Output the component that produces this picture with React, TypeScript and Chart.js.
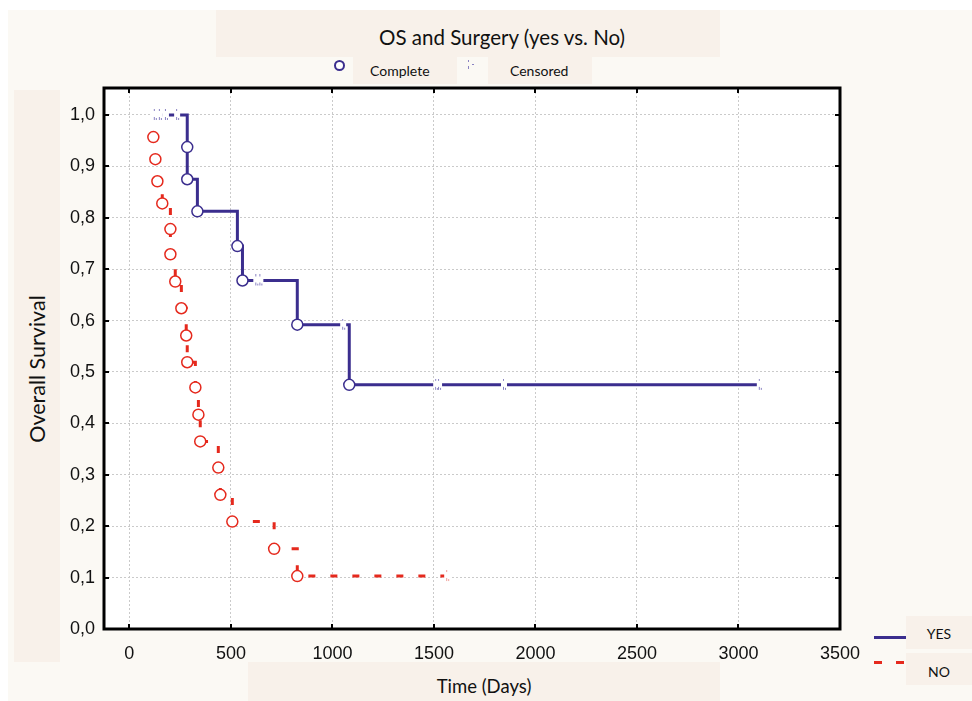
import React, { useEffect, useRef } from 'react';
import { Chart, registerables } from 'chart.js';

Chart.register(...registerables);

// ---- text ----
const chartTitle = 'OS and Surgery (yes vs. No)';
const xAxisTitle = 'Time (Days)';
const yAxisTitle = 'Overall Survival';
const groupLabels = ['YES', 'NO'];
const markerLabels = ['Complete', 'Censored'];

// ---- ticks ----
const xTickValues = [0, 500, 1000, 1500, 2000, 2500, 3000, 3500];
const yTickValues = [0, 0.1, 0.2, 0.3, 0.4, 0.5, 0.6, 0.7, 0.8, 0.9, 1.0];

// ---- YES group (surgery) ----
const yesEventDays = [285, 285, 335, 532, 557, 827, 1083];
const yesEventSurv = [0.9375, 0.875, 0.8125, 0.745, 0.678, 0.592, 0.475];
const yesCensDays = [125, 150, 180, 235, 625, 645, 1053, 1511, 1525, 1845, 3105];
const yesCensSurv = [1, 1, 1, 1, 0.678, 0.678, 0.592, 0.475, 0.475, 0.475, 0.475];

// ---- NO group ----
const noEventDays = [118, 128, 138, 162, 202, 202, 226, 256, 280, 285, 325, 340, 349, 438, 448, 507, 713, 827];
const noEventSurv = [0.957, 0.914, 0.871, 0.828, 0.778, 0.729, 0.676, 0.624, 0.571, 0.519, 0.47, 0.417, 0.365, 0.314, 0.261, 0.209, 0.156, 0.103];
const noCensDays = [1565];
const noCensSurv = [0.103];

const BLUE = '#3b2e8e';
const RED = '#e5291d';
const BOX = '#f8f1ea';
const PAGE = '#fbf9f4';
const FONT = 'Lato, "Open Sans", sans-serif';

function buildSteps(eDays: number[], eSurv: number[], cDays: number[], cSurv: number[]) {
  const pts = [
    ...eDays.map((d, i) => ({ x: d, y: eSurv[i] })),
    ...cDays.map((d, i) => ({ x: d, y: cSurv[i] })),
  ];
  pts.sort((a, b) => a.x - b.x || b.y - a.y);
  return pts;
}

function toPts(days: number[], surv: number[]) {
  return days.map((d, i) => ({ x: d, y: surv[i] }));
}

function makeCensorMark(color: string) {
  const c = document.createElement('canvas');
  c.width = 8;
  c.height = 12;
  const g = c.getContext('2d')!;
  g.fillStyle = '#ffffff';
  g.fillRect(1, 3, 6, 6);
  g.fillStyle = color;
  g.fillRect(3, 0, 1, 2);
  g.fillRect(3, 8, 1, 3);
  g.fillRect(5, 9, 1, 2);
  return c;
}

const framePlugin = {
  id: 'frame',
  beforeDraw(chart: any) {
    const { ctx, chartArea: a } = chart;
    ctx.save();
    ctx.fillStyle = '#ffffff';
    ctx.fillRect(a.left, a.top, a.right - a.left, a.bottom - a.top);
    ctx.restore();
  },
  afterDraw(chart: any) {
    const { ctx, chartArea: a, scales } = chart;
    ctx.save();
    ctx.strokeStyle = '#000';
    ctx.lineWidth = 3;
    ctx.strokeRect(a.left, a.top, a.right - a.left, a.bottom - a.top);
    ctx.lineWidth = 2;
    ctx.beginPath();
    xTickValues.forEach((v) => {
      const px = Math.round(scales.x.getPixelForValue(v));
      ctx.moveTo(px, a.bottom);
      ctx.lineTo(px, a.bottom - 5);
      ctx.moveTo(px, a.top);
      ctx.lineTo(px, a.top + 5);
    });
    yTickValues.forEach((v) => {
      const py = Math.round(scales.y.getPixelForValue(v));
      ctx.moveTo(a.left, py);
      ctx.lineTo(a.left + 5, py);
      ctx.moveTo(a.right, py);
      ctx.lineTo(a.right - 5, py);
    });
    ctx.stroke();
    ctx.restore();
  },
};

export default function App() {
  const ref = useRef<HTMLCanvasElement | null>(null);

  useEffect(() => {
    if (!ref.current) return;
    const tickFont = { family: '"Liberation Sans", Arial, sans-serif', size: 18 };
    const chart = new Chart(ref.current, {
      type: 'line',
      data: {
        datasets: [
          {
            label: 'YES complete',
            data: toPts(yesEventDays, yesEventSurv),
            showLine: false,
            pointStyle: 'circle',
            pointRadius: 5.5,
            pointBackgroundColor: '#ffffff',
            pointBorderColor: BLUE,
            pointBorderWidth: 1.5,
            order: 1,
          },
          {
            label: 'NO complete',
            data: toPts(noEventDays, noEventSurv),
            showLine: false,
            pointStyle: 'circle',
            pointRadius: 5.5,
            pointBackgroundColor: '#ffffff',
            pointBorderColor: RED,
            pointBorderWidth: 1.5,
            order: 1,
          },
          {
            label: 'YES censored',
            data: toPts(yesCensDays, yesCensSurv),
            showLine: false,
            pointStyle: makeCensorMark('#8a83c2') as any,
            pointRadius: 4,
            order: 2,
          },
          {
            label: 'NO censored',
            data: toPts(noCensDays, noCensSurv),
            showLine: false,
            pointStyle: makeCensorMark('#f0a09a') as any,
            pointRadius: 4,
            order: 2,
          },
          {
            label: groupLabels[0],
            data: buildSteps(yesEventDays, yesEventSurv, yesCensDays, yesCensSurv),
            borderColor: BLUE,
            borderWidth: 3,
            stepped: true,
            pointRadius: 0,
            fill: false,
            order: 3,
          },
          {
            label: groupLabels[1],
            data: buildSteps(noEventDays, noEventSurv, noCensDays, noCensSurv),
            borderColor: RED,
            borderWidth: 3,
            borderDash: [7, 15],
            stepped: true,
            pointRadius: 0,
            fill: false,
            order: 3,
          },
        ] as any,
      },
      options: {
        animation: false,
        responsive: false,
        events: [],
        layout: { padding: { top: 88, right: 132, left: 0, bottom: 0 } },
        plugins: {
          legend: { display: false },
          title: { display: false },
          tooltip: { enabled: false },
        },
        scales: {
          x: {
            type: 'linear',
            min: -125,
            max: 3500,
            afterBuildTicks: (s: any) => {
              s.ticks = xTickValues.map((v) => ({ value: v }));
            },
            afterFit: (s: any) => {
              s.height = 72;
            },
            grid: { color: '#cacaca', lineWidth: 1, drawTicks: false },
            border: { display: false, dash: [2, 2] },
            ticks: {
              font: tickFont,
              color: '#111',
              padding: 14,
              maxRotation: 0,
              autoSkip: false,
              callback: (v: any) => String(v),
            },
          },
          y: {
            type: 'linear',
            min: 0,
            max: 1.0525,
            afterBuildTicks: (s: any) => {
              s.ticks = yTickValues.map((v) => ({ value: v }));
            },
            afterFit: (s: any) => {
              s.width = 104;
            },
            grid: { color: '#cacaca', lineWidth: 1, drawTicks: false },
            border: { display: false, dash: [2, 2] },
            ticks: {
              font: tickFont,
              color: '#111',
              padding: 9,
              autoSkip: false,
              callback: (v: any) => Number(v).toFixed(1).replace('.', ','),
            },
          },
        },
      } as any,
      plugins: [framePlugin],
    });
    return () => chart.destroy();
  }, []);

  const abs = (l: number, t: number, w: number, h: number, extra: any = {}) => ({
    position: 'absolute' as const,
    left: l,
    top: t,
    width: w,
    height: h,
    ...extra,
  });

  return (
    <div style={{ position: 'absolute', left: 0, top: 0, width: 972, height: 701, background: '#ffffff', overflow: 'hidden', fontFamily: FONT }}>
      <div style={abs(8, 10, 964, 691, { background: PAGE })} />
      {/* title */}
      <div style={abs(216, 10, 504, 47, { background: BOX })} />
      <div style={abs(302, 24, 400, 26, { textAlign: 'center', fontSize: 20.5, lineHeight: '26px', color: '#111', whiteSpace: 'nowrap' })}>{chartTitle}</div>
      {/* marker legend */}
      <div style={abs(353, 57, 104, 27, { background: BOX })} />
      <div style={abs(488, 57, 104, 27, { background: BOX })} />
      <div style={abs(334, 60, 7, 7, { border: `2px solid ${BLUE}`, borderRadius: '50%', background: '#fff' })} />
      <div style={abs(468, 60, 1, 2, { background: '#8a83c2' })} />
      <div style={abs(468, 66, 1, 3, { background: '#8a83c2' })} />
      <div style={abs(472, 64, 2, 1, { background: '#8a83c2' })} />
      <div style={abs(370, 62, 80, 18, { fontSize: 14, lineHeight: '18px', color: '#111', whiteSpace: 'nowrap' })}>{markerLabels[0]}</div>
      <div style={abs(510, 62, 80, 18, { fontSize: 14, lineHeight: '18px', color: '#111', whiteSpace: 'nowrap' })}>{markerLabels[1]}</div>
      {/* y axis title */}
      <div style={abs(14, 90, 46, 572, { background: BOX })} />
      <div style={abs(37 - 100, 369 - 13, 200, 26, { transform: 'rotate(-90deg)', textAlign: 'center', fontSize: 21.5, lineHeight: '26px', color: '#111', whiteSpace: 'nowrap' })}>{yAxisTitle}</div>
      {/* x axis title */}
      <div style={abs(248, 662, 472, 39, { background: BOX })} />
      <div style={abs(384, 674, 200, 24, { textAlign: 'center', fontSize: 18.5, lineHeight: '24px', color: '#111', whiteSpace: 'nowrap' })}>{xAxisTitle}</div>
      {/* group legend */}
      <div style={abs(906, 616, 66, 33, { background: BOX })} />
      <div style={abs(906, 653, 66, 32, { background: BOX })} />
      <div style={abs(874, 636, 32, 3, { background: BLUE })} />
      <div style={abs(874, 661, 8, 3, { background: RED })} />
      <div style={abs(896, 661, 8, 3, { background: RED })} />
      <div style={abs(906, 624, 66, 20, { textAlign: 'center', fontSize: 14, lineHeight: '20px', color: '#111' })}>{groupLabels[0]}</div>
      <div style={abs(906, 662, 66, 20, { textAlign: 'center', fontSize: 14, lineHeight: '20px', color: '#111' })}>{groupLabels[1]}</div>
      <canvas ref={ref} width={972} height={701} style={{ position: 'absolute', left: 0, top: 0, width: 972, height: 701 }} />
    </div>
  );
}
